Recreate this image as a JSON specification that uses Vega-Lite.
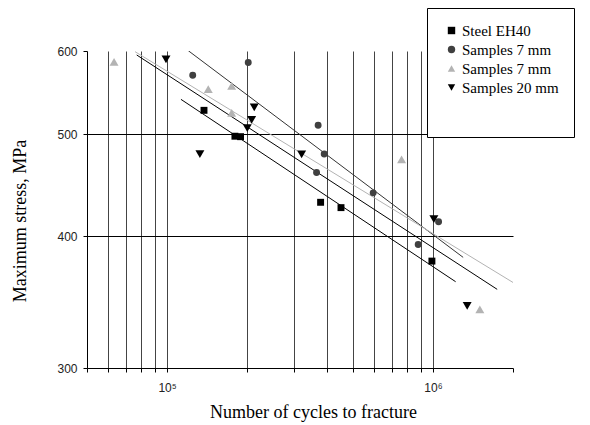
{
  "$schema": "https://vega.github.io/schema/vega-lite/v6.json",
  "width": 426,
  "height": 317,
  "autosize": "none",
  "padding": {"left": 87, "top": 51, "right": 77, "bottom": 57},
  "background": "white",
  "config": {"view": {"stroke": null}},
  "datasets": {
    "points": [
      {"series": "Steel EH40", "n": 137700, "s": 527},
      {"series": "Steel EH40", "n": 180000, "s": 498},
      {"series": "Steel EH40", "n": 189000, "s": 497.5},
      {"series": "Steel EH40", "n": 378000, "s": 431},
      {"series": "Steel EH40", "n": 451000, "s": 426},
      {"series": "Steel EH40", "n": 991000, "s": 379},
      {"series": "Samples 7 mm", "n": 124900, "s": 569},
      {"series": "Samples 7 mm", "n": 202000, "s": 585},
      {"series": "Samples 7 mm", "n": 370000, "s": 510},
      {"series": "Samples 7 mm", "n": 390000, "s": 479},
      {"series": "Samples 7 mm", "n": 365000, "s": 460},
      {"series": "Samples 7 mm", "n": 596000, "s": 440},
      {"series": "Samples 7 mm", "n": 1050000, "s": 413},
      {"series": "Samples 7 mm", "n": 880000, "s": 393},
      {"series": "\u00a0Samples 7 mm", "n": 63200, "s": 586},
      {"series": "\u00a0Samples 7 mm", "n": 142900, "s": 552},
      {"series": "\u00a0Samples 7 mm", "n": 175000, "s": 556},
      {"series": "\u00a0Samples 7 mm", "n": 175000, "s": 524},
      {"series": "\u00a0Samples 7 mm", "n": 762000, "s": 473.5},
      {"series": "\u00a0Samples 7 mm", "n": 1501000, "s": 341},
      {"series": "Samples 20 mm", "n": 99100, "s": 589},
      {"series": "Samples 20 mm", "n": 212800, "s": 530.5},
      {"series": "Samples 20 mm", "n": 208000, "s": 516},
      {"series": "Samples 20 mm", "n": 200300, "s": 507},
      {"series": "Samples 20 mm", "n": 132900, "s": 479},
      {"series": "Samples 20 mm", "n": 320700, "s": 478.7},
      {"series": "Samples 20 mm", "n": 1008000, "s": 415.5},
      {"series": "Samples 20 mm", "n": 1345000, "s": 343.6}
    ]
  },
  "encoding": {
    "x": {
      "field": "n", "type": "quantitative",
      "scale": {"type": "log", "domain": [50000, 2000000], "nice": false},
      "axis": {
        "values": [50000, 60000, 70000, 80000, 90000, 100000, 200000, 300000, 400000, 500000, 600000, 700000, 800000, 900000, 1000000, 2000000],
        "grid": true, "gridColor": "#444", "gridWidth": 1,
        "gridOpacity": {"condition": {"test": "datum.value <= 50000 || datum.value >= 2000000", "value": 0}, "value": 1},
        "labelExpr": "datum.value == 100000 ? '10⁵' : (datum.value == 1000000 ? '10⁶' : '')",
        "labelFont": "Liberation Sans", "labelFontSize": 12, "labelColor": "#222", "labelPadding": 10,
        "labelOverlap": false, "labelBound": false, "labelFlush": false,
        "tickColor": "#000", "tickSize": 4, "domainColor": "#000",
        "title": "Number of cycles to fracture", "titleFont": "Liberation Serif", "titleFontSize": 18,
        "titleFontWeight": "normal", "titleColor": "#000", "titleX": 226, "titleY": 49,
        "titleBaseline": "alphabetic", "titleAlign": "center"
      }
    },
    "y": {
      "field": "s", "type": "quantitative",
      "scale": {"type": "log", "domain": [300, 600], "nice": false},
      "axis": {
        "values": [300, 400, 500, 600], "format": "d",
        "grid": true, "gridColor": "#000", "gridWidth": 1,
        "gridOpacity": {"condition": {"test": "datum.value <= 300 || datum.value >= 600", "value": 0}, "value": 1},
        "labelFont": "Liberation Sans", "labelFontSize": 12, "labelColor": "#222", "labelPadding": 6,
        "tickColor": "#000", "tickSize": 4, "domainColor": "#000",
        "title": "Maximum stress, MPa", "titleFont": "Liberation Serif", "titleFontSize": 18,
        "titleFontWeight": "normal", "titleColor": "#000", "titleX": -62, "titleY": 169.5,
        "titleAngle": -90, "titleBaseline": "alphabetic", "titleAlign": "center"
      }
    }
  },
  "layer": [
    {
      "data": {"values": [
        {"line": "A", "n": 120200, "s": 600.4}, {"line": "A", "n": 1299000, "s": 382.1},
        {"line": "G", "n": 75800, "s": 599.1}, {"line": "G", "n": 2000000, "s": 361.7},
        {"line": "B", "n": 76900, "s": 594.8}, {"line": "B", "n": 1744000, "s": 356.3},
        {"line": "C", "n": 112800, "s": 539.8}, {"line": "C", "n": 1217000, "s": 362.3}
      ]},
      "mark": {"type": "line", "strokeWidth": 1, "clip": true},
      "encoding": {
        "stroke": {"field": "line", "type": "nominal",
          "scale": {"domain": ["A", "G", "B", "C"], "range": ["#333333", "#b3b3b3", "#000000", "#000000"]},
          "legend": null}
      }
    },
    {
      "data": {"name": "points"},
      "transform": [{"filter": "datum.series == 'Steel EH40' || datum.series == 'Samples 7 mm'"}],
      "mark": {"type": "point", "filled": true, "opacity": 1, "size": 48, "strokeWidth": 0},
      "encoding": {
        "color": {"field": "series", "type": "nominal",
          "scale": {"domain": ["Steel EH40", "Samples 7 mm", "\u00a0Samples 7 mm", "Samples 20 mm"], "range": ["#000000", "#404040", "#b3b3b3", "#000000"]},
          "legend": {
            "orient": "none", "legendX": 340, "legendY": -43,
            "title": "                                             ", "titleOrient": "bottom", "titleFontSize": 12, "titlePadding": 15,
            "padding": 15, "strokeColor": "#000", "fillColor": "#fff",
            "labelFont": "Liberation Serif", "labelFontSize": 15, "labelColor": "#000", "labelOffset": 3, "labelLimit": 300,
            "rowPadding": 3, "symbolSize": 55, "symbolOffset": 2, "symbolStrokeWidth": 0, "zindex": 1
          }},
        "shape": {"field": "series", "type": "nominal",
          "scale": {"domain": ["Steel EH40", "Samples 7 mm", "\u00a0Samples 7 mm", "Samples 20 mm"], "range": ["square", "circle", "triangle-up", "triangle-down"]}}
      }
    },
    {
      "data": {"name": "points"},
      "transform": [{"filter": "datum.series != 'Steel EH40' && datum.series != 'Samples 7 mm'"}],
      "mark": {"type": "point", "filled": true, "opacity": 1, "size": 80, "strokeWidth": 0},
      "encoding": {
        "color": {"field": "series", "type": "nominal"},
        "shape": {"field": "series", "type": "nominal"}
      }
    }
  ]
}
